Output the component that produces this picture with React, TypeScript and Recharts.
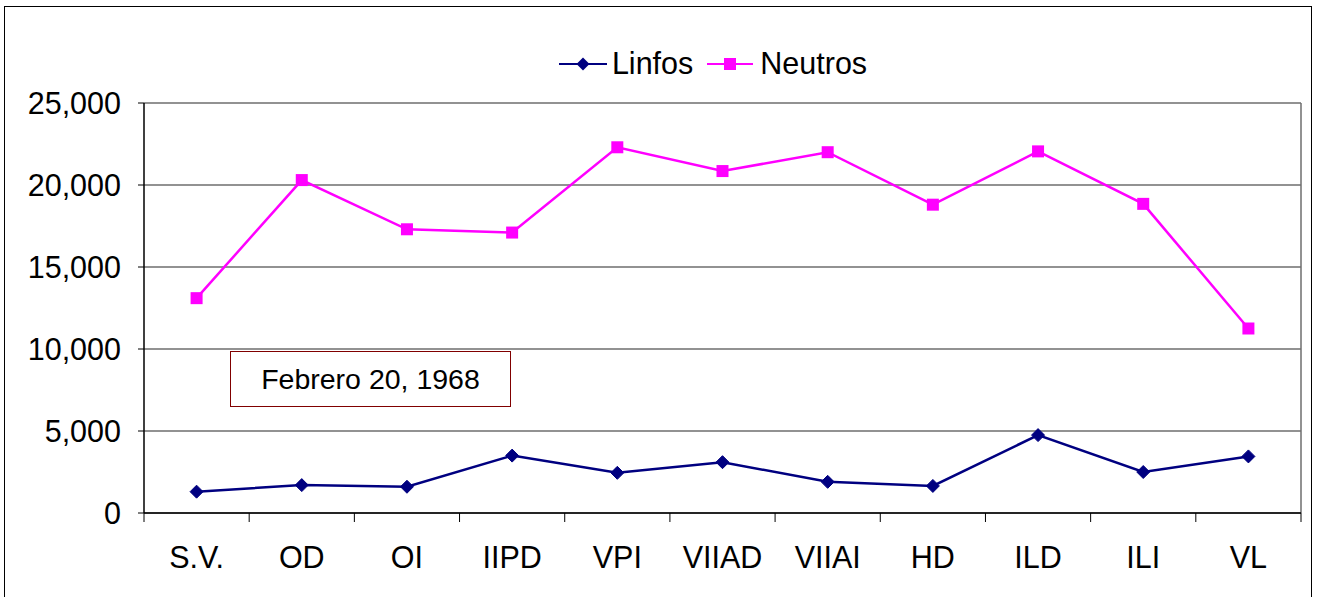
import React from 'react';
import { LineChart, Line, XAxis, YAxis, CartesianGrid, Legend } from 'recharts';

const categories = ['S.V.', 'OD', 'OI', 'IIPD', 'VPI', 'VIIAD', 'VIIAI', 'HD', 'ILD', 'ILI', 'VL'];
const linfos = [1300, 1700, 1600, 3500, 2450, 3100, 1900, 1650, 4750, 2500, 3450];
const neutros = [13100, 20300, 17300, 17100, 22300, 20850, 22000, 18800, 22050, 18850, 11250];
const yTicks = [0, 5000, 10000, 15000, 20000, 25000];

const data = categories.map((c, i) => ({ name: c, Linfos: linfos[i], Neutros: neutros[i] }));

const W = 1318;
const H = 597;
const LEFT = 144;
const RIGHT = 17;
const TOP = 103;
const BOTTOM = 84;
const XH = 30;
const BAND = (W - LEFT - RIGHT) / categories.length;
const FONT = '"Liberation Sans", Arial, sans-serif';
const FS = 30.5;
const NAVY = '#000080';
const PINK = '#FF00FF';

const Diamond = ({ cx, cy }: any) => {
  if (cx == null || cy == null) return null;
  const r = 6.5;
  return <polygon points={`${cx},${cy - r} ${cx + r},${cy} ${cx},${cy + r} ${cx - r},${cy}`} fill={NAVY} stroke={NAVY} />;
};

const Square = ({ cx, cy }: any) => {
  if (cx == null || cy == null) return null;
  const s = 12;
  return <rect x={cx - s / 2} y={cy - s / 2} width={s} height={s} fill={PINK} />;
};

const XTick = ({ x, y, payload, index }: any) => {
  const right = x + BAND / 2;
  const left = x - BAND / 2;
  return (
    <g>
      {index === 0 && <line x1={left} x2={left} y1={y} y2={y + 9} stroke="#000" />}
      <line x1={right} x2={right} y1={y} y2={y + 9} stroke="#000" />
      <text x={x} y={y + 55} textAnchor="middle" fontSize={FS} fontFamily={FONT} fill="#000">
        {payload.value}
      </text>
    </g>
  );
};

const LegendContent = () => (
  <div style={{ display: 'flex', alignItems: 'center', justifyContent: 'center', fontFamily: FONT, fontSize: FS }}>
    <svg width={48} height={20}>
      <line x1={0} x2={48} y1={10} y2={10} stroke={NAVY} strokeWidth={2} />
      <polygon points="24,3.5 30.5,10 24,16.5 17.5,10" fill={NAVY} />
    </svg>
    <span style={{ marginLeft: 5, marginRight: 14 }}>Linfos</span>
    <svg width={46} height={20}>
      <line x1={0} x2={46} y1={10} y2={10} stroke={PINK} strokeWidth={2} />
      <rect x={17} y={4} width={12} height={12} fill={PINK} />
    </svg>
    <span style={{ marginLeft: 7 }}>Neutros</span>
  </div>
);

export default function App() {
  return (
    <div style={{ position: 'absolute', left: 0, top: 0, width: W, height: H, background: '#fff', overflow: 'hidden' }}>
      <div style={{ position: 'absolute', left: 4, top: 6, width: 1308, height: 600, border: '1px solid #000', boxSizing: 'border-box' }} />
      <LineChart width={W} height={H} data={data} margin={{ top: TOP, right: RIGHT, bottom: BOTTOM - XH, left: 0 }}>
        <CartesianGrid vertical={true} verticalPoints={[W - RIGHT]} stroke="#6e6e6e" strokeWidth={1.5} />
        <XAxis
          dataKey="name"
          height={XH}
          padding={{ left: BAND / 2, right: BAND / 2 }}
          axisLine={{ stroke: '#000', strokeWidth: 1.5 }}
          tickLine={false}
          tickSize={0}
          tickMargin={0}
          tick={<XTick />}
          interval={0}
        />
        <YAxis
          width={LEFT}
          domain={[0, 25000]}
          ticks={yTicks}
          interval={0}
          axisLine={{ stroke: '#000', strokeWidth: 1.5 }}
          tickLine={{ stroke: '#000' }}
          tickSize={6}
          tickMargin={17}
          tickFormatter={(v: number) => v.toLocaleString('en-US')}
          tick={{ fontSize: FS, fontFamily: FONT, fill: '#000' }}
        />
        <Legend verticalAlign="middle" align="center" content={<LegendContent />} wrapperStyle={{ top: 46, left: 0, width: 1426, height: 34 }} />
        <Line dataKey="Linfos" stroke={NAVY} strokeWidth={2.5} dot={<Diamond />} activeDot={false} isAnimationActive={false} />
        <Line dataKey="Neutros" stroke={PINK} strokeWidth={2.5} dot={<Square />} activeDot={false} isAnimationActive={false} />
      </LineChart>
      <div
        style={{
          position: 'absolute',
          left: 230,
          top: 351,
          width: 281,
          height: 56,
          border: '1.5px solid #800000',
          boxSizing: 'border-box',
          background: '#fff',
          display: 'flex',
          alignItems: 'center',
          justifyContent: 'center',
          fontFamily: FONT,
          fontSize: 28.5,
        }}
      >
        Febrero 20, 1968
      </div>
    </div>
  );
}
